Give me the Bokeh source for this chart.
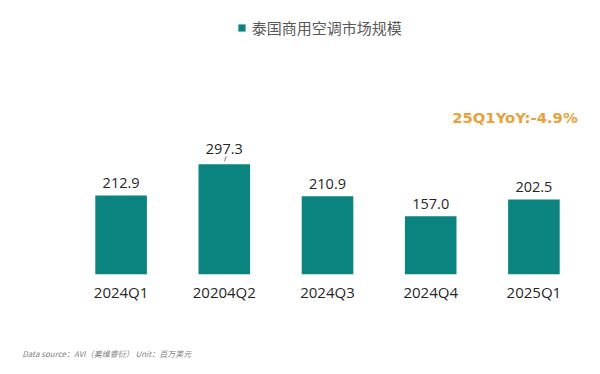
from bokeh.plotting import figure
from bokeh.layouts import column
from bokeh.models import ColumnDataSource, Label, Legend, LegendItem, Range1d
from bokeh.core.properties import value
from bokeh.embed import file_html
from bokeh.resources import INLINE

# ---- data ----
categories = ["2024Q1", "20204Q2", "2024Q3", "2024Q4", "2025Q1"]
market_size = [212.9, 297.3, 210.9, 157.0, 202.5]
value_labels = ["212.9", "297.3", "210.9", "157.0", "202.5"]
series_name = "泰国商用空调市场规模"
yoy_note = "25Q1YoY:-4.9%"
source_note = "Data source：AVI（奥维睿衍）  Unit：百万美元"

BAR = "#0B8480"
NUM_FONT = "Open Sans"
CJK_FONT = "Noto Sans CJK SC"

label_offsets = [-12.5, -15.5, -12.5, -12.5, -12.5]

src = ColumnDataSource(dict(cat=categories, val=market_size, lab=value_labels,
                            off=label_offsets))

p = figure(x_range=categories, y_range=Range1d(0, 739),
           width=592, height=306, output_backend="svg", toolbar_location=None,
           min_border_left=69, min_border_right=7, min_border_top=0,
           min_border_bottom=32)
p.outline_line_color = None
p.background_fill_color = "white"
p.border_fill_color = "white"
p.grid.visible = False
p.yaxis.visible = False

ax = p.xaxis[0]
ax.axis_line_color = None
ax.major_tick_line_color = None
ax.minor_tick_line_color = None
ax.major_tick_out = 0
ax.major_tick_in = 0
ax.major_label_standoff = 7
ax.major_label_text_font = NUM_FONT
ax.major_label_text_font_size = "15px"
ax.major_label_text_color = "#262626"

bars = p.vbar(x="cat", top="val", width=0.5, source=src, fill_color=BAR,
              line_color=None)

p.text(x="cat", y="val", text="lab", source=src, y_offset="off",
       text_align="center", text_baseline="alphabetic",
       text_font=value(NUM_FONT), text_font_size="14.5px", text_color="#262626")

# small leader line above the tallest bar
imax = market_size.index(max(market_size))
px_per_unit = 274 / 739
p.segment(x0=[imax + 0.5 + 2 / 103.2], y0=[market_size[imax] + 8 / px_per_unit],
          x1=[imax + 0.5], y1=[market_size[imax] + 3 / px_per_unit],
          line_color="#7f7f7f", line_width=1)

legend = Legend(items=[LegendItem(label=series_name, renderers=[bars])],
                location=(167.7, 236), orientation="horizontal",
                padding=0, margin=0, spacing=0,
                glyph_width=9, glyph_height=9, label_height=9,
                label_standoff=6, label_text_font=CJK_FONT,
                label_text_font_size="15px", label_text_color="#595959",
                border_line_color=None, background_fill_alpha=0)
p.add_layout(legend, "center")

p.add_layout(Label(x=382.7, y=156.8, x_units="screen", y_units="screen",
                   text=yoy_note, text_font="DejaVu Sans", text_font_size="14.8px",
                   text_font_style="bold", text_color="#EBA03A",
                   text_baseline="middle", text_align="left"))

# footer strip holding the source note
foot = figure(width=592, height=64, output_backend="svg", toolbar_location=None,
              x_range=Range1d(0, 1), y_range=Range1d(0, 1),
              x_axis_type=None, y_axis_type=None,
              min_border_left=0, min_border_right=0, min_border_top=0,
              min_border_bottom=0)
foot.outline_line_color = None
foot.grid.visible = False
foot.border_fill_color = "white"

note_x = 21.7
try:
    foot.frame_align = False
    p.frame_align = False
except Exception:
    note_x = 21.7 - 69

foot.add_layout(Label(x=note_x, y=64 - (352.8 - 306), x_units="screen", y_units="screen",
                      text=source_note, text_font=CJK_FONT, text_font_size="8px",
                      text_font_style="italic", text_color="#7f7f7f",
                      text_baseline="middle", text_align="left"))

layout = column(p, foot, spacing=0)
open("out.html", "w").write(file_html(layout, INLINE))
